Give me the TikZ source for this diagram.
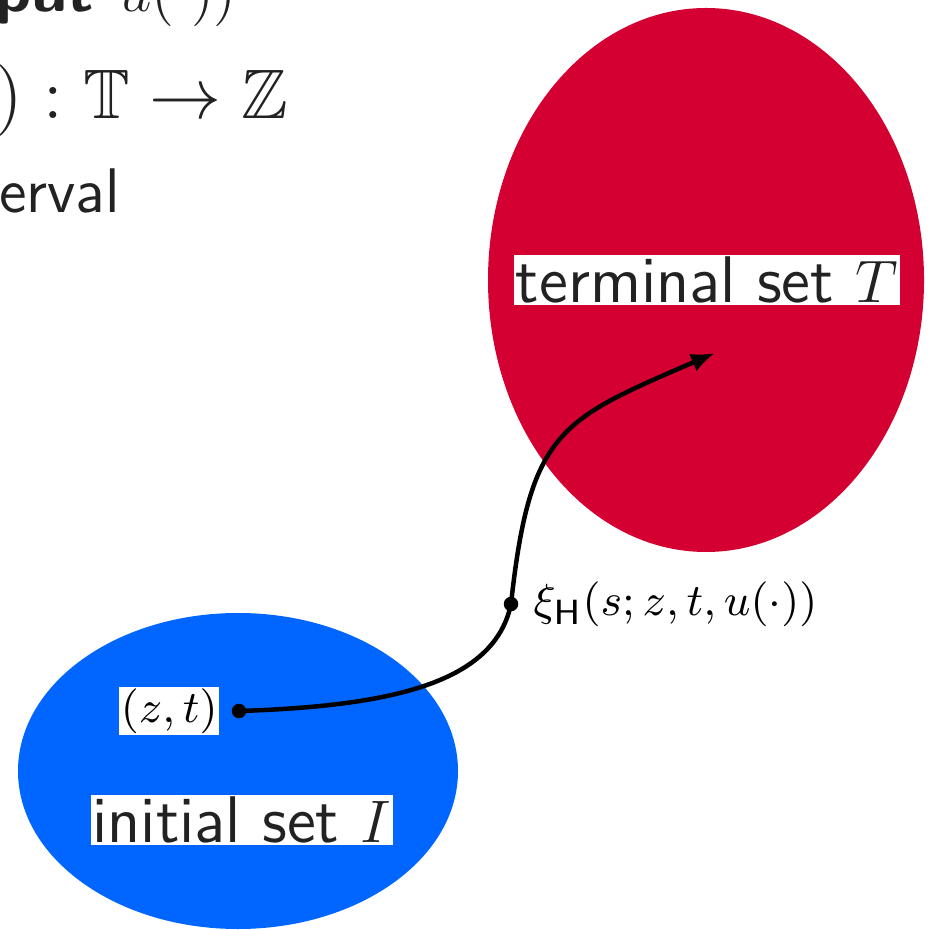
\documentclass[tikz,border=0pt]{standalone}
\usepackage{amsmath, amssymb}
\usepackage{xcolor}
\usetikzlibrary{shapes.geometric, positioning, arrows.meta}
\definecolor{set-red}{HTML}{D50032}
\definecolor{set-blue}{HTML}{0066FF}
\definecolor{slide-text}{HTML}{222222}

\begin{document}
\begin{tikzpicture}[x=0.2pt, y=-0.2pt,
    setlabel/.style={fill=white, inner sep=0.4pt, text=slide-text,
      font=\sffamily\fontsize{13.2}{15}\selectfont},
    ptlabel/.style={inner sep=0.3pt, font=\fontsize{9.45}{11}\selectfont},
    slidetext/.style={anchor=base west, inner sep=0pt, text=slide-text}]
  \useasboundingbox (0,0) rectangle (931,930);
  \clip (0,0) rectangle (931,930);
  % slide text cut off by the frame
  \node[slidetext, font=\sffamily\bfseries\fontsize{13}{15}\selectfont]
    (line1) at (-6,12) {put $u(\cdot))$};
  \node[slidetext, font=\fontsize{14}{16}\selectfont]
    (line2) at (-5,119) {$\thickmuskip=5mu ) : \mathbb{T} \to \mathbb{Z}$};
  \node[slidetext, font=\sffamily\fontsize{12.6}{14}\selectfont]
    (line3) at (-2,213) {erval};
  % the two sets
  \node[ellipse, fill=set-red, inner sep=0pt,
    minimum width=87.2pt, minimum height=108.8pt] (termset) at (706,280) {};
  \node[ellipse, fill=set-blue, inner sep=0pt,
    minimum width=88pt, minimum height=63.2pt] (initset) at (238,771) {};
  \node[setlabel] (termlabel) at (707,280) {terminal set $T$};
  \node[setlabel] (initlabel) at (242,820) {initial set $I$};
  % trajectory
  \coordinate (start) at (239,711);
  \coordinate (via) at (511,604);
  \coordinate (goal) at (715,353);
  \draw[line width=0.9pt, -{Latex[length=4.8pt, width=3.8pt]}]
    (start) .. controls (400,706) and (495,680) .. (via)
    .. controls (530,430) and (560,420) .. (goal);
  \fill (start) circle[radius=1.45pt];
  \fill (via) circle[radius=1.45pt];
  \node[ptlabel, fill=white, left=3.8pt of start,
    font=\fontsize{9}{11}\selectfont] (ztlabel) {$(z,t)$};
  \node[ptlabel, right=4pt of via] (xilabel) {$\xi_{\mathsf{H}}(s;z,t,u(\cdot))$};
\end{tikzpicture}
\end{document}
